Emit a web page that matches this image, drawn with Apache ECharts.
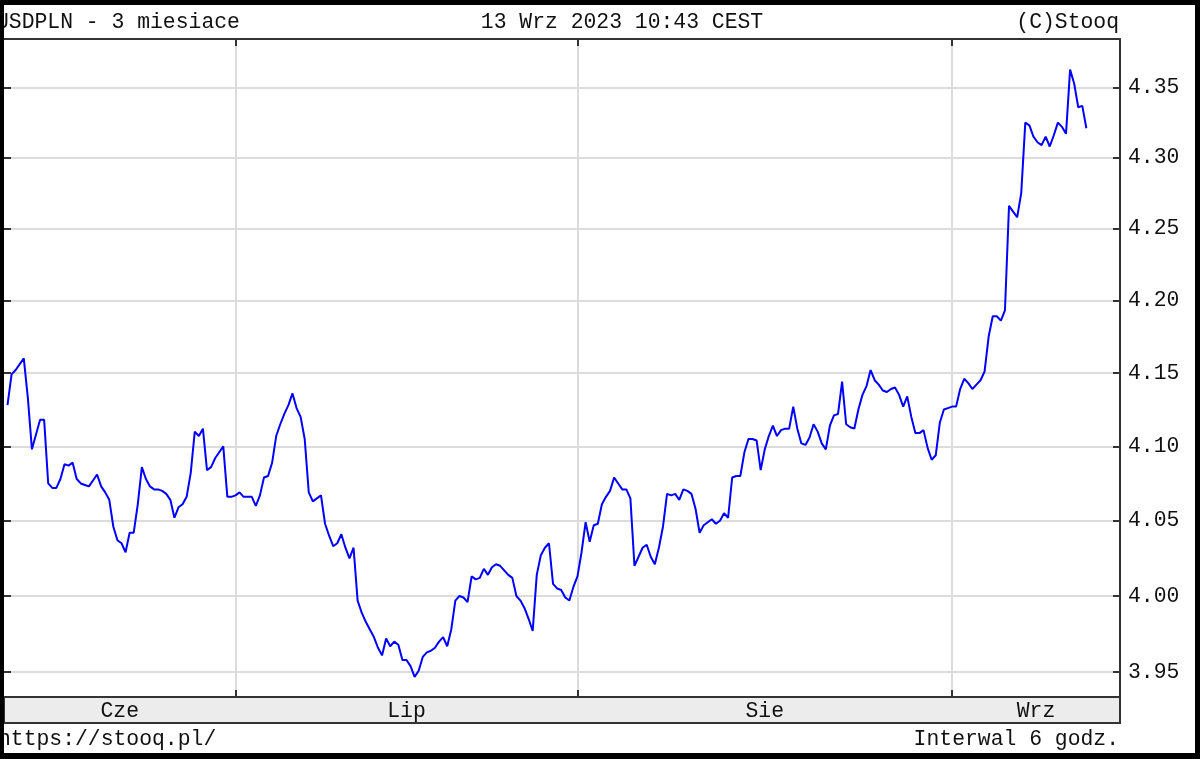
<!DOCTYPE html>
<html>
<head>
<meta charset="utf-8">
<title>USDPLN - 3 miesiace</title>
<script src="https://cdn.jsdelivr.net/npm/echarts@6/dist/echarts.min.js"></script>
<style>
  html, body { margin: 0; padding: 0; background: #fff; }
  #chart { width: 1200px; height: 759px; }
</style>
</head>
<body>
<div id="chart"></div>
<script>
// USD/PLN, 6-hour closes from 13 Jun to 13 Sep 2023.
// x runs in trading days counted from 13 Jun (weekends skipped), four points a day.
const STEP = 0.25;

const juneValues = [
  4.128, 4.149, 4.152, 4.156, 4.160, 4.133, 4.098, 4.108, 4.118, 4.118,
  4.075, 4.072, 4.072, 4.078, 4.088, 4.087, 4.089, 4.078, 4.075, 4.074,
  4.073, 4.077, 4.081, 4.073, 4.069, 4.064, 4.046, 4.037, 4.035, 4.029,
  4.042, 4.042, 4.061, 4.086, 4.078, 4.073, 4.071, 4.071, 4.070, 4.068,
  4.064, 4.052, 4.059, 4.061, 4.066, 4.082, 4.110, 4.107, 4.112, 4.084,
  4.086, 4.092, 4.096, 4.100, 4.066, 4.066
];
const julyValues = [
  4.067, 4.069, 4.066, 4.066, 4.066, 4.060, 4.067, 4.079, 4.080, 4.089,
  4.107, 4.115, 4.122, 4.128, 4.136, 4.126, 4.120, 4.105, 4.069, 4.063,
  4.065, 4.067, 4.048, 4.040, 4.033, 4.035, 4.041, 4.032, 4.025, 4.032,
  3.997, 3.989, 3.983, 3.978, 3.973, 3.966, 3.961, 3.972, 3.967, 3.970,
  3.968, 3.958, 3.958, 3.954, 3.947, 3.951, 3.960, 3.963, 3.964, 3.966,
  3.970, 3.973, 3.967, 3.978, 3.997, 4.000, 3.999, 3.996, 4.013, 4.011,
  4.012, 4.018, 4.014, 4.019, 4.021, 4.020, 4.017, 4.014, 4.012, 4.000,
  3.997, 3.992, 3.985, 3.977, 4.014, 4.027, 4.032, 4.035, 4.008, 4.005,
  4.004, 3.999, 3.997, 4.006
];
const augustValues = [
  4.013, 4.029, 4.049, 4.036, 4.047, 4.048, 4.061, 4.066, 4.070, 4.079,
  4.075, 4.071, 4.071, 4.065, 4.020, 4.026, 4.032, 4.034, 4.026, 4.021,
  4.032, 4.046, 4.068, 4.067, 4.068, 4.064, 4.071, 4.070, 4.068, 4.058,
  4.042, 4.047, 4.049, 4.051, 4.048, 4.050, 4.055, 4.052, 4.079, 4.080,
  4.080, 4.096, 4.105, 4.105, 4.104, 4.084, 4.098, 4.107, 4.114, 4.107,
  4.111, 4.112, 4.112, 4.127, 4.112, 4.102, 4.101, 4.106, 4.115, 4.110,
  4.102, 4.098, 4.114, 4.121, 4.122, 4.144, 4.115, 4.113, 4.112, 4.125,
  4.135, 4.141, 4.152, 4.145, 4.142, 4.138, 4.137, 4.139, 4.140, 4.135,
  4.127, 4.134, 4.120, 4.109, 4.109, 4.111, 4.099, 4.091, 4.094, 4.116,
  4.125, 4.126
];
const septemberValues = [
  4.127, 4.127, 4.139, 4.146, 4.143, 4.139, 4.142, 4.145, 4.151, 4.175,
  4.189, 4.189, 4.186, 4.193, 4.266, 4.262, 4.258, 4.275, 4.325, 4.323,
  4.315, 4.311, 4.309, 4.315, 4.308, 4.316, 4.325, 4.322, 4.317, 4.363,
  4.353, 4.336, 4.337, 4.321
];

const monthNames = ["Cze", "Lip", "Sie", "Wrz"];
const monthStartDays = [0, 14, 35, 58];     // trading day of each month's first point
const monthBoundaries = [14, 35, 58];       // 1 Jul, 1 Aug, 1 Sep
const dayRange = [-0.215, 68.315];
const priceTicks = [3.95, 4.00, 4.05, 4.10, 4.15, 4.20, 4.25, 4.30, 4.35];
const priceRange = [3.9339, 4.3851];       // stooq draws a log scale

const FONT = "Liberation Mono";
const FONT_SIZE = 21.4;
const INK = "#111";
const FRAME = "#333";

const monthSeries = [juneValues, julyValues, augustValues, septemberValues];
const lineData = [];
monthSeries.forEach((values, m) => {
  values.forEach((v, i) => lineData.push([monthStartDays[m] + i * STEP, Math.log(v)]));
});

// month names sit in the middle of each month's stretch of the axis
const edges = [dayRange[0], ...monthBoundaries, dayRange[1]];
const labelDays = monthNames.map((_, i) => (edges[i] + edges[i + 1]) / 2);

const logTicks = priceTicks.map((v) => Math.log(v));
const logMin = Math.log(priceRange[0]);
const logMax = Math.log(priceRange[1]);

const tickStyle = { color: FRAME, width: 2 };
const gridLine = { show: true, lineStyle: { color: "#dcdcdc", width: 2 } };

function textEl(text, x, y, align) {
  return {
    type: "text",
    x,
    y,
    z: 50,
    style: {
      text,
      font: `${FONT_SIZE}px "${FONT}"`,
      fill: INK,
      align,
      verticalAlign: "middle",
      textAlign: align,
      textVerticalAlign: "middle",
    },
  };
}

function blackBar(x, y, width, height) {
  return { type: "rect", z: 100, shape: { x, y, width, height }, style: { fill: "#000" } };
}

const chart = echarts.init(document.getElementById("chart"), null, { renderer: "canvas" });
chart.setOption({
  animation: false,
  backgroundColor: "#fff",
  grid: { left: 4, right: 80, top: 39, bottom: 62 },
  xAxis: [
    {
      type: "value",
      position: "bottom",
      min: dayRange[0],
      max: dayRange[1],
      axisLine: { show: true, onZero: false, lineStyle: tickStyle },
      axisTick: { show: true, inside: true, length: 7, customValues: monthBoundaries, lineStyle: tickStyle },
      axisLabel: {
        customValues: labelDays,
        formatter: (value) => monthNames[labelDays.findIndex((d) => Math.abs(d - value) < 1e-6)] || "",
        margin: 4,
        color: INK,
        fontFamily: FONT,
        fontSize: FONT_SIZE,
      },
      splitLine: gridLine,
    },
    {
      type: "value",
      position: "top",
      min: dayRange[0],
      max: dayRange[1],
      axisLine: { show: true, onZero: false, lineStyle: tickStyle },
      axisTick: { show: true, inside: true, length: 7, customValues: monthBoundaries, lineStyle: tickStyle },
      axisLabel: { show: false },
      splitLine: { show: false },
    },
  ],
  yAxis: [
    {
      type: "value",
      position: "right",
      min: logMin,
      max: logMax,
      axisLine: { show: true, onZero: false, lineStyle: tickStyle },
      axisTick: { show: true, inside: true, length: 7, customValues: logTicks, lineStyle: tickStyle },
      axisLabel: {
        customValues: logTicks,
        formatter: (value) => Math.exp(value).toFixed(2),
        margin: 8,
        color: INK,
        fontFamily: FONT,
        fontSize: FONT_SIZE,
      },
      splitLine: gridLine,
    },
    {
      type: "value",
      position: "left",
      min: logMin,
      max: logMax,
      axisLine: { show: false, onZero: false },
      axisTick: { show: true, inside: true, length: 7, customValues: logTicks, lineStyle: tickStyle },
      axisLabel: { show: false },
      splitLine: { show: false },
    },
  ],
  series: [
    {
      type: "line",
      xAxisIndex: 0,
      yAxisIndex: 0,
      data: lineData,
      showSymbol: false,
      symbol: "none",
      lineStyle: { color: "#0000ff", width: 2 },
      z: 3,
    },
  ],
  graphic: [
    {
      type: "rect",
      z: -1,
      shape: { x: 4, y: 697, width: 1116, height: 26 },
      style: { fill: "#ececec", stroke: FRAME, lineWidth: 2 },
    },
    textEl("USDPLN - 3 miesiace", -4, 22, "left"),
    textEl("13 Wrz 2023 10:43 CEST", 622, 22, "center"),
    textEl("(C)Stooq", 1119, 22, "right"),
    textEl("https://stooq.pl/", -2, 739, "left"),
    textEl("Interwal 6 godz.", 1119, 739, "right"),
    blackBar(0, 0, 1200, 5),
    blackBar(0, 753, 1200, 6),
    blackBar(0, 0, 4, 759),
    blackBar(1195, 0, 5, 759),
  ],
});
</script>
</body>
</html>
